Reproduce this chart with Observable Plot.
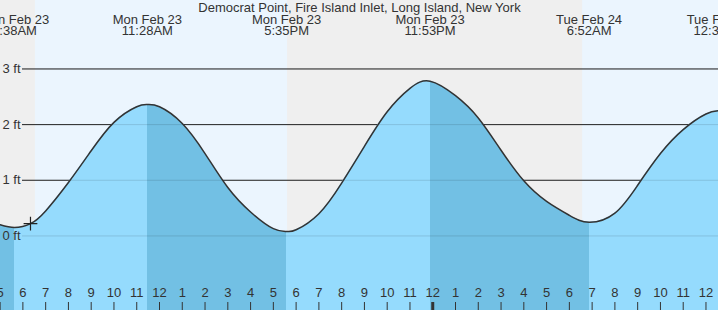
<!DOCTYPE html>
<html>
<head>
<meta charset="utf-8">
<script src="https://cdn.jsdelivr.net/npm/d3@7"></script>
<script src="https://cdn.jsdelivr.net/npm/@observablehq/plot@0.6"></script>
<style>
html, body { margin: 0; padding: 0; background: #ffffff; overflow: hidden; }
#chart svg { display: block; }
</style>
</head>
<body>
<div id="chart"></div>
<script>
// ---- data (times are "hours:minutes" after Mon Feb 23 00:00; 24:00 = Tue Feb 24 00:00) ----
const title = "Democrat Point, Fire Island Inlet, Long Island, New York";
const xDomainTimes = ["05:01", "36:33"];
const yDomainFeet = [-1.34, 4.23];

const tideTimes = ["05:00","05:38","06:20","07:00","08:00","09:00","10:00","11:00","11:28","12:00",
  "13:00","14:00","15:00","16:00","17:00","17:35","18:00","19:00","20:00","21:00",
  "22:00","23:00","23:53","25:00","26:00","27:00","28:00","29:00","30:00",
  "30:52","32:00","33:00","34:00","35:00","36:00","36:36"];
const tideFeet = [0.20,0.15,0.22,0.45,0.96,1.53,2.04,2.32,2.36,2.32,
  2.02,1.48,0.87,0.43,0.13,0.08,0.11,0.40,0.95,1.61,
  2.23,2.65,2.78,2.52,2.12,1.54,0.99,0.62,0.37,
  0.245,0.41,0.91,1.48,1.91,2.19,2.25];

const eventTimes = ["05:38","11:28","17:35","23:53","30:52","36:36"];
const eventKinds = ["low","high","low","high","low","high"];

const sunriseTimes = ["06:33","30:35"];
const sunsetTimes = ["17:38"];

const markerTime = "06:20";
const markerFeet = 0.22;

const gridFeet = [0, 1, 2, 3];
const gridLabels = ["0 ft", "1 ft", "2 ft", "3 ft"];

const tickTimes = ["05:00","06:00","07:00","08:00","09:00","10:00","11:00","12:00","13:00","14:00",
  "15:00","16:00","17:00","18:00","19:00","20:00","21:00","22:00","23:00","24:00",
  "25:00","26:00","27:00","28:00","29:00","30:00","31:00","32:00","33:00","34:00","35:00","36:00"];
const tickLabels = ["5","6","7","8","9","10","11","12","1","2",
  "3","4","5","6","7","8","9","10","11","12",
  "1","2","3","4","5","6","7","8","9","10","11","12"];

// ---- colours ----
const nightColor = "#efefef";
const dayColor = "#ebf5fe";
const waterLight = "#95dbfd";
const waterDark = "#72c0e4";
const ink = "#333333";

// ---- build tables ----
const at = s => { const [h, m] = s.split(":").map(Number); return new Date(Date.UTC(2026, 1, 23, h, m)); };
const xDomain = xDomainTimes.map(at);
const tide = tideTimes.map((s, i) => ({t: at(s), ft: tideFeet[i]}));
const events = eventTimes.map((s, i) => ({t: at(s), kind: eventKinds[i]}));
const ticks = tickTimes.map((s, i) => ({t: at(s), label: tickLabels[i], midnight: at(s).getUTCHours() === 0}));
const marker = {t: at(markerTime), ft: markerFeet};

// sky (night / day) intervals
const sunEdges = [
  {t: at(sunriseTimes[0]), kind: "rise"},
  {t: at(sunsetTimes[0]), kind: "set"},
  {t: at(sunriseTimes[1]), kind: "rise"}
];
const sky = [];
let prev = xDomain[0], prevFill = nightColor;
for (const e of sunEdges) {
  sky.push({start: prev, end: e.t, fill: prevFill});
  prev = e.t; prevFill = e.kind === "rise" ? dayColor : nightColor;
}
sky.push({start: prev, end: xDomain[1], fill: prevFill});

// water phases: interval ending at a low = falling (dark), ending at a high = rising (light)
const phases = [];
let p0 = xDomain[0];
events.forEach(e => { phases.push({start: p0, end: e.t, fill: e.kind === "low" ? waterDark : waterLight}); p0 = e.t; });
phases.push({start: p0, end: xDomain[1], fill: events[events.length - 1].kind === "high" ? waterDark : waterLight});

// horizontal gradient with hard stops, positioned through Plot's own x scale
function waterGradient(index, scales, values, dims) {
  const W = dims.width;
  const x = scales.x;
  const defs = d3.create("svg:defs");
  const grad = defs.append("linearGradient")
    .attr("id", "tide-water").attr("gradientUnits", "userSpaceOnUse")
    .attr("x1", 0).attr("x2", W).attr("y1", 0).attr("y2", 0);
  const off = d => Math.max(0, Math.min(1, x(d) / W));
  phases.forEach(ph => {
    grad.append("stop").attr("offset", off(ph.start)).attr("stop-color", ph.fill);
    grad.append("stop").attr("offset", off(ph.end)).attr("stop-color", ph.fill);
  });
  return defs.node();
}

const fmtDate = d3.utcFormat("%a %b %d");
const fmtTime = d3.utcFormat("%-I:%M%p");

const chart = Plot.plot({
  width: 718,
  height: 310,
  margin: 0,
  style: {background: nightColor, fontFamily: "'Liberation Sans', Arial, sans-serif", fontSize: "13px", color: ink},
  x: {type: "utc", domain: xDomain, axis: null},
  y: {domain: yDomainFeet, axis: null},
  marks: [
    waterGradient,
    Plot.rect(sky, {x1: "start", x2: "end", fill: "fill"}),
    Plot.ruleY(gridFeet, {stroke: "#2a2a2a", strokeWidth: 1, insetLeft: 22}),
    Plot.areaY(tide, {x: "t", y1: yDomainFeet[0], y2: "ft", curve: "natural", fill: "url(#tide-water)"}),
    Plot.ruleY(gridFeet, {stroke: "#000", strokeOpacity: 0.12, strokeWidth: 1, insetLeft: 22}),
    Plot.line(tide, {x: "t", y: "ft", curve: "natural", stroke: ink, strokeWidth: 1.5}),
    Plot.dot([marker], {x: "t", y: "ft", symbol: "plus", r: 4.5, stroke: "#222", strokeWidth: 1.2}),
    Plot.ruleX(ticks, {x: "t", stroke: ink, strokeWidth: d => d.midnight ? 3 : 1, insetTop: 302}),
    Plot.text(ticks, {x: "t", text: "label", frameAnchor: "bottom", dy: -14, fill: ink, fontSize: 13}),
    Plot.text(gridFeet, {y: d => d, text: (d, i) => gridLabels[i], frameAnchor: "left", textAnchor: "start", dx: 2, fill: ink, fontSize: 13}),
    Plot.text(events, {x: "t", text: d => fmtDate(d.t) + "\n" + fmtTime(d.t), frameAnchor: "top", lineAnchor: "top", dy: 15.3, lineHeight: 0.885, fill: ink, fontSize: 13}),
    Plot.text([title], {text: d => d, frameAnchor: "top", lineAnchor: "top", dy: 1.8, fill: ink, fontSize: 13})
  ]
});

document.getElementById("chart").appendChild(chart);
</script>
</body>
</html>
